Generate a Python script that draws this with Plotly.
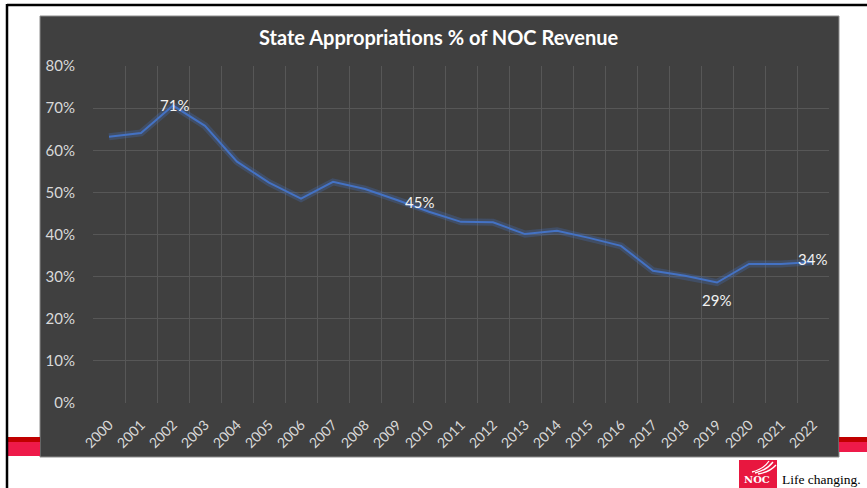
import plotly.graph_objects as go

years = [str(y) for y in range(2000, 2023)]
share = [63.2, 64.1, 70.6, 65.8, 57.3, 52.3, 48.5, 52.5, 50.8, 48.2, 45.4, 43.0,
         42.9, 40.1, 40.9, 39.2, 37.3, 31.4, 30.2, 28.6, 33.0, 33.0, 33.5]
labelled = ["2002", "2010", "2019", "2022"]

W, H = 867, 488
L, R, T, B = 93, 38, 66, 85
pw, ph = W - L - R, H - T - B

def px(x):  # pixel -> paper x
    return (x - L) / pw

def py(y):  # pixel -> paper y
    return (H - B - y) / ph

fig = go.Figure()

# soft glow under the line
fig.add_trace(go.Scatter(x=years, y=share, mode="lines",
                         line=dict(color="rgba(68,114,196,0.28)", width=7),
                         hoverinfo="skip", showlegend=False))
fig.add_trace(go.Scatter(x=years, y=share, mode="lines",
                         line=dict(color="#4472C4", width=2),
                         showlegend=False))

# data labels (offsets mimic the Excel placement)
offsets = {"2002": (1, 1), "2010": (-10, 10), "2019": (-1, -17), "2022": (-1, 3)}
for yr in labelled:
    i = years.index(yr)
    v = share[i]
    dx, dy = offsets[yr]
    fig.add_annotation(x=i, y=v, text=f"{round(v)}%", showarrow=False,
                       xshift=dx, yshift=dy,
                       font=dict(family="Lato", size=15, color="#f2f2f2"))

def rect(x0, x1, y0, y1, color, **kw):
    return dict(type="rect", xref="paper", yref="paper", layer="below",
                x0=px(x0), x1=px(x1), y0=py(y1), y1=py(y0),
                fillcolor=color, line_width=0, **kw)

def curve(pts, width=1.3):
    (a, b), (c, d), (e, f) = pts
    path = f"M{px(a)},{py(b)} Q{px(c)},{py(d)} {px(e)},{py(f)}"
    return dict(type="path", xref="paper", yref="paper", path=path,
                line=dict(color="white", width=width))

shapes = [
    # dark chart panel
    dict(type="rect", xref="paper", yref="paper", layer="below",
         x0=px(40), x1=px(839), y0=py(457), y1=py(16),
         fillcolor="#404040", line=dict(color="#8c8c8c", width=1)),
    # red bands
    rect(8, 40, 442, 456, "#ee1a4a"),
    rect(8, 40, 437, 442, "#c00000"),
    rect(839, 867, 442, 452, "#ee1a4a"),
    rect(839, 867, 437, 442, "#c00000"),
    # slide frame (top + left)
    dict(type="line", xref="paper", yref="paper",
         x0=px(7), x1=px(867), y0=py(5), y1=py(5),
         line=dict(color="black", width=2.5)),
    dict(type="line", xref="paper", yref="paper",
         x0=px(7), x1=px(7), y0=py(4), y1=py(488),
         line=dict(color="black", width=2.5)),
    # logo square + swoosh
    dict(type="rect", xref="paper", yref="paper",
         x0=px(739), x1=px(777), y0=py(488), y1=py(460),
         fillcolor="#e8173f", line_width=0),
    curve([(752, 472), (764, 469), (769, 461)]),
    curve([(755, 473), (767, 470), (773, 462)]),
    curve([(758, 474), (770, 472), (776, 465)]),
]

fig.add_annotation(xref="paper", yref="paper", x=px(439), y=py(37),
                   yanchor="middle",
                   text="<b>State Appropriations % of NOC Revenue</b>",
                   showarrow=False, font=dict(family="Lato", size=20, color="white"))
fig.add_annotation(xref="paper", yref="paper", x=px(743), y=py(486),
                   xanchor="left", yanchor="bottom", borderpad=0,
                   text="<b>NOC</b>", showarrow=False,
                   font=dict(family="DejaVu Serif", size=10, color="white"))
fig.add_annotation(xref="paper", yref="paper", x=px(780), y=py(479),
                   yanchor="middle",
                   text="Life changing.", showarrow=False, xanchor="left",
                   font=dict(family="Liberation Serif", size=13.5, color="black"))

fig.update_layout(
    width=W, height=H,
    margin=dict(l=L, r=R, t=T, b=B, autoexpand=False),
    paper_bgcolor="white",
    plot_bgcolor="#404040",
    shapes=shapes,
    xaxis=dict(type="category", tickson="boundaries", showgrid=True,
               range=[-0.5, len(years) - 0.5],
               gridcolor="#575757", gridwidth=1, tickangle=-45,
               ticklabelstandoff=10,
               tickfont=dict(family="Lato", size=14, color="#d9d9d9"),
               showline=False, zeroline=False, ticks=""),
    yaxis=dict(range=[0, 80], dtick=10, ticksuffix="%", showgrid=True,
               gridcolor="#575757", gridwidth=1, zeroline=False,
               ticklabelstandoff=17,
               tickfont=dict(family="Lato", size=15, color="#d9d9d9")),
)

fig.write_html("out.html", config={"displayModeBar": False},
               post_script="document.body.style.margin='0';")
